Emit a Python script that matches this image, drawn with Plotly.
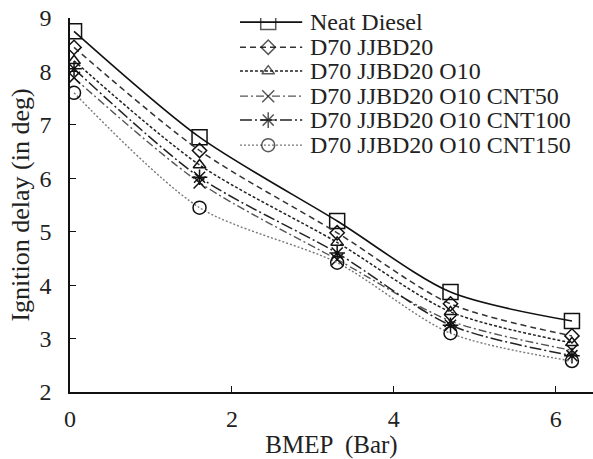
import plotly.graph_objects as go

bmep = [0.05, 1.6, 3.3, 4.7, 6.2]
series_names = ["Neat Diesel", "D70 JJBD20", "D70 JJBD20 O10", "D70 JJBD20 O10 CNT50",
                "D70 JJBD20 O10 CNT100", "D70 JJBD20 O10 CNT150"]
neat = [8.75, 6.77, 5.2, 3.87, 3.33]
jjbd20 = [8.45, 6.52, 4.98, 3.65, 3.05]
o10 = [8.2, 6.25, 4.8, 3.5, 2.92]
cnt50 = [7.88, 5.92, 4.48, 3.33, 2.78]
cnt100 = [8.05, 6.02, 4.6, 3.25, 2.68]
cnt150 = [7.6, 5.45, 4.42, 3.1, 2.58]
values = [neat, jjbd20, o10, cnt50, cnt100, cnt150]

styles = [
    dict(color="#111111", dash="solid", symbol="square-open", size=15, width=1.6),
    dict(color="#333333", dash="6px,4px", symbol="diamond-open", size=11, width=1.5),
    dict(color="#222222", dash="3px,2px", symbol="triangle-up-open", size=11, width=1.5),
    dict(color="#555555", dash="8px,3px,2px,3px", symbol="x-thin-open", size=12, width=1.4),
    dict(color="#222222", dash="12px,3px,2px,3px", symbol="asterisk-open", size=13, width=1.5),
    dict(color="#777777", dash="2px,2px", symbol="circle-open", size=13, width=1.4),
]

font = "Liberation Serif, Times New Roman, serif"

# legend layout (paper fractions of the plot area)
leg_x0, leg_xm, leg_x1, leg_tx = 0.325, 0.379, 0.444, 0.455
leg_rows = [0.989, 0.922, 0.858, 0.791, 0.727, 0.660]

fig = go.Figure()
for name, vals, st in zip(series_names, values, styles):
    line = dict(color=st["color"], dash=st["dash"], width=st["width"], shape="spline", smoothing=0.8)
    marker = dict(symbol=st["symbol"], size=st["size"], color="#111111",
                  line=dict(color="#111111", width=1.5))
    fig.add_trace(go.Scatter(x=bmep, y=vals, name=name, mode="lines+markers",
                             line=line, marker=marker, showlegend=False))

annotations = []
for name, st, ly in zip(series_names, styles, leg_rows):
    fig.add_trace(go.Scatter(
        x=[leg_x0, leg_xm, leg_x1], y=[ly, ly, ly], xaxis="x2", yaxis="y2",
        mode="lines+markers", showlegend=False, hoverinfo="skip",
        line=dict(color=st["color"], dash=st["dash"], width=st["width"]),
        marker=dict(symbol=st["symbol"], size=[0, st["size"], 0], color="#111111",
                    line=dict(color="#111111", width=[0, 1.5, 0])),
    ))
    annotations.append(dict(x=leg_tx, y=ly, xref="x2", yref="y2", text=name,
                            showarrow=False, xanchor="left", yanchor="middle",
                            font=dict(size=24, family=font, color="#222222")))

fig.update_layout(
    width=593, height=459,
    margin=dict(l=70, r=0, t=18, b=67),
    paper_bgcolor="white", plot_bgcolor="white",
    font=dict(family=font, size=24, color="#222222"),
    showlegend=False,
    annotations=annotations,
    xaxis=dict(range=[0, 6.46], tickvals=[0, 2, 4, 6], ticks="inside", ticklen=6,
               tickcolor="#111111", showline=True, linecolor="#111111", linewidth=1.5,
               showgrid=False, zeroline=False, ticklabelstandoff=4,
               title=dict(text="BMEP  (Bar)", font=dict(size=25), standoff=6),
               tickfont=dict(size=24)),
    yaxis=dict(range=[2, 9], dtick=1, ticks="inside", ticklen=6, tickcolor="#111111",
               showline=True, linecolor="#111111", linewidth=1.5,
               showgrid=False, zeroline=False, ticklabelstandoff=12,
               title=dict(text="Ignition delay (in deg)", font=dict(size=26), standoff=2),
               tickfont=dict(size=24)),
    xaxis2=dict(range=[0, 1], overlaying="x", visible=False, fixedrange=True),
    yaxis2=dict(range=[0, 1], overlaying="y", visible=False, fixedrange=True),
)

fig.write_html("out.html")
